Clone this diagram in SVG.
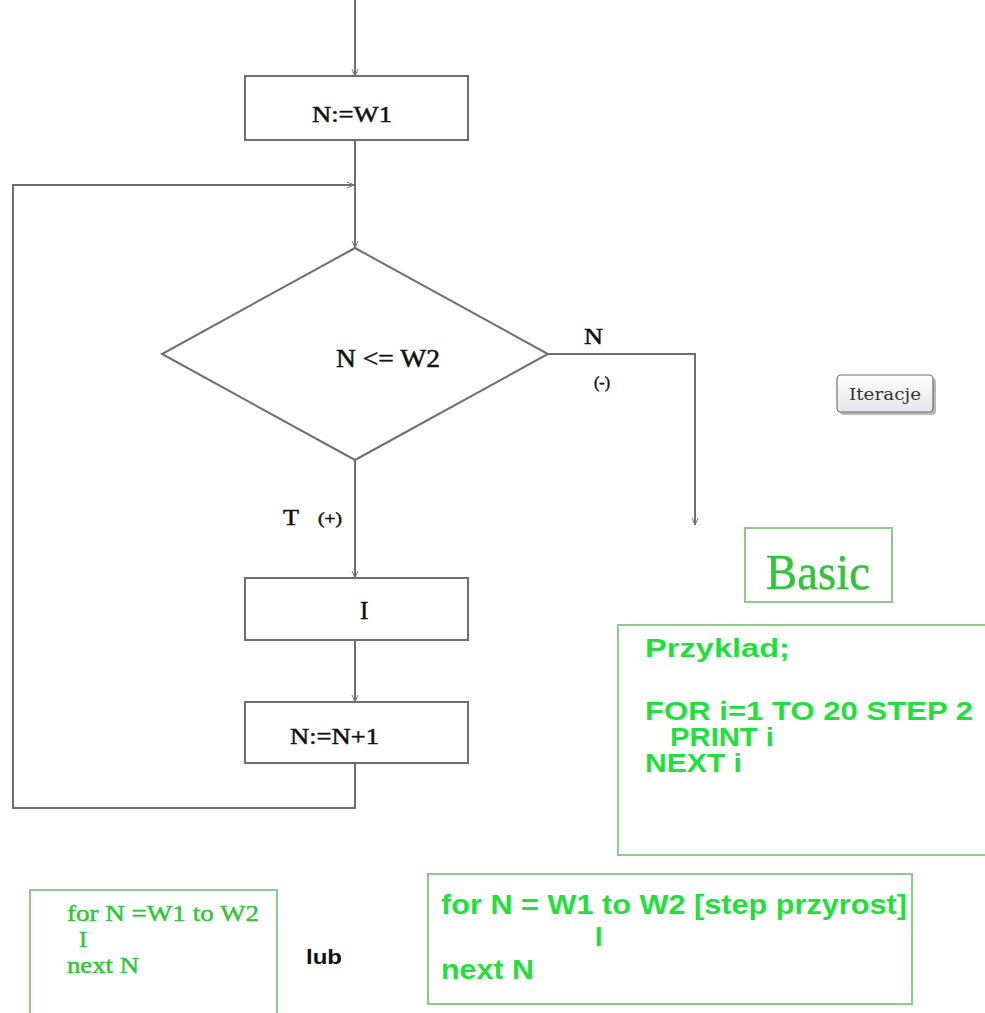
<svg xmlns="http://www.w3.org/2000/svg" width="985" height="1013" viewBox="0 0 985 1013">
<defs>
<marker id="arr" markerWidth="8" markerHeight="8" refX="7" refY="4" orient="auto" markerUnits="userSpaceOnUse">
<path d="M0,1 L7,4 L0,7" fill="none" stroke="#777" stroke-width="1"/>
</marker>
<linearGradient id="btn" x1="0" y1="0" x2="0" y2="1">
<stop offset="0" stop-color="#ffffff"/>
<stop offset="1" stop-color="#e4e6ec"/>
</linearGradient>
</defs>
<style>
.flow{fill:#fff;stroke:#6e6e6e;stroke-width:2}
.conn{fill:none;stroke:#6e6e6e;stroke-width:2}
.lbl{font-family:"Liberation Serif",serif;fill:#111;stroke:#111;stroke-width:0.5}
.gbox{fill:#fff;stroke:#8ccb8c;stroke-width:2}
.gser{font-family:"Liberation Serif",serif;fill:#33c43c;stroke:#33c43c;stroke-width:0.5}
.gsans{font-family:"Liberation Sans",Arial,sans-serif;font-weight:bold;fill:#22e03c}
</style>
<rect width="985" height="1013" fill="#fff"/>

<g id="connectors">
<line class="conn" x1="355" y1="0" x2="355" y2="76" marker-end="url(#arr)"/>
<line class="conn" x1="355" y1="140" x2="355" y2="248" marker-end="url(#arr)"/>
<polyline class="conn" points="355,763 355,808 13,808 13,185 354,185" marker-end="url(#arr)"/>
<polyline class="conn" points="548,354 695,354 695,525" marker-end="url(#arr)"/>
<line class="conn" x1="355" y1="460" x2="355" y2="578" marker-end="url(#arr)"/>
<line class="conn" x1="355" y1="640" x2="355" y2="702" marker-end="url(#arr)"/>
<text class="lbl" x="584" y="344" font-size="24" textLength="19" lengthAdjust="spacingAndGlyphs">N</text>
<text class="lbl" x="594" y="388" font-size="16">(-)</text>
<text class="lbl" x="283" y="525" font-size="24" textLength="16" lengthAdjust="spacingAndGlyphs">T</text>
<text class="lbl" x="318" y="524" font-size="17" textLength="24" lengthAdjust="spacingAndGlyphs">(+)</text>
</g>

<g id="start">
<rect class="flow" x="245" y="76" width="223" height="64"/>
<text class="lbl" x="312" y="122" font-size="24" textLength="80" lengthAdjust="spacingAndGlyphs">N:=W1</text>
</g>

<g id="decision">
<polygon class="flow" points="355,248 548,354 355,460 162,354"/>
<text class="lbl" x="336" y="367" font-size="25" textLength="104" lengthAdjust="spacingAndGlyphs">N &lt;= W2</text>
</g>

<g id="body">
<rect class="flow" x="245" y="578" width="223" height="62"/>
<text class="lbl" x="360" y="619" font-size="25">I</text>
</g>

<g id="increment">
<rect class="flow" x="245" y="702" width="223" height="61"/>
<text class="lbl" x="290" y="744" font-size="24" textLength="89" lengthAdjust="spacingAndGlyphs">N:=N+1</text>
</g>

<g id="iteracje">
<rect x="840" y="378" width="96" height="37" rx="4" fill="#8a8a8a" opacity="0.6"/>
<rect x="837" y="375" width="96" height="37" rx="4" fill="url(#btn)" stroke="#6f6f6f" stroke-width="1.2"/>
<text x="885" y="400" font-size="16" text-anchor="middle" font-family="'DejaVu Serif','Liberation Serif',serif" fill="#333" textLength="72" lengthAdjust="spacingAndGlyphs">Iteracje</text>
</g>

<g id="basic">
<rect class="gbox" x="745" y="528" width="147" height="74"/>
<text class="gser" x="766" y="589" font-size="50" textLength="104" lengthAdjust="spacingAndGlyphs">Basic</text>
</g>

<g id="przyklad">
<rect class="gbox" x="618" y="625" width="380" height="230"/>
<text class="gsans" x="645" y="657" font-size="25" textLength="145" lengthAdjust="spacingAndGlyphs">Przyklad;</text>
<text class="gsans" x="645" y="720" font-size="25" textLength="328" lengthAdjust="spacingAndGlyphs">FOR i=1 TO 20 STEP 2</text>
<text class="gsans" x="670" y="746" font-size="25" textLength="104" lengthAdjust="spacingAndGlyphs">PRINT i</text>
<text class="gsans" x="645" y="772" font-size="25" textLength="97" lengthAdjust="spacingAndGlyphs">NEXT i</text>
</g>

<g id="for-serif">
<rect class="gbox" x="30" y="890" width="247" height="130"/>
<text class="gser" x="67" y="921" font-size="24" textLength="192" lengthAdjust="spacingAndGlyphs">for N =W1 to W2</text>
<text class="gser" x="79" y="947" font-size="24">I</text>
<text class="gser" x="67" y="973" font-size="24" textLength="72" lengthAdjust="spacingAndGlyphs">next N</text>
</g>

<text x="306" y="964" font-size="20" font-weight="bold" font-family="'Liberation Sans',Arial,sans-serif" fill="#111" textLength="36" lengthAdjust="spacingAndGlyphs">lub</text>

<g id="for-sans">
<rect class="gbox" x="428" y="874" width="484" height="130"/>
<text class="gsans" x="441" y="914" font-size="27" textLength="466" lengthAdjust="spacingAndGlyphs">for N = W1 to W2 [step przyrost]</text>
<text class="gsans" x="595" y="946" font-size="27">I</text>
<text class="gsans" x="441" y="979" font-size="27" textLength="93" lengthAdjust="spacingAndGlyphs">next N</text>
</g>
</svg>
